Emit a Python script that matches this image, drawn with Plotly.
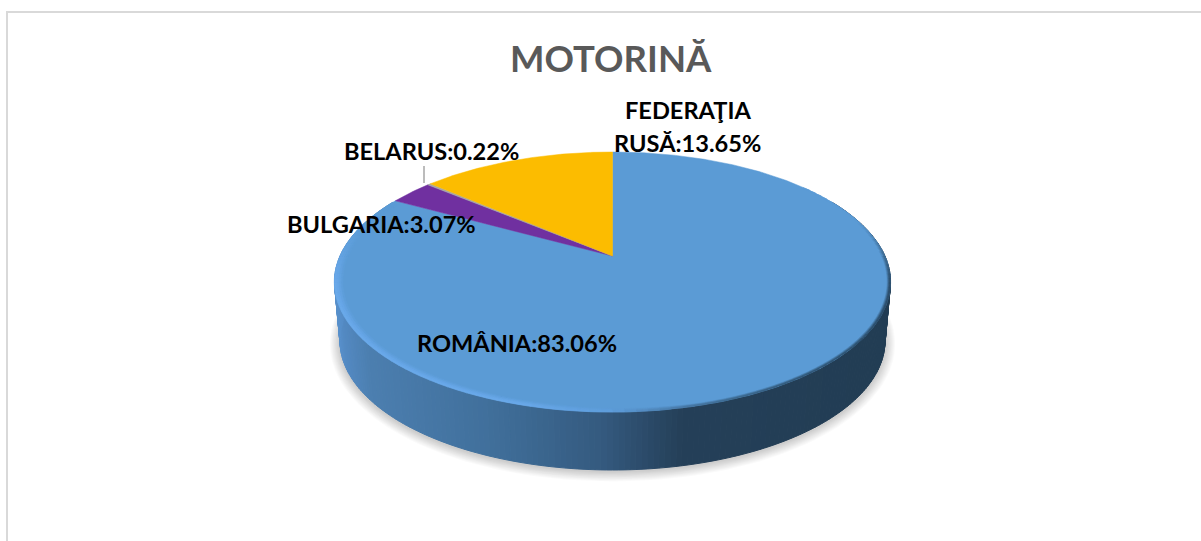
import numpy as np
import plotly.graph_objects as go

# ---- data ----
TITLE = "MOTORINĂ"
CATEGORIES = ["ROMÂNIA", "BULGARIA", "BELARUS", "FEDERAŢIA RUSĂ"]
VALUES = [83.06, 3.07, 0.22, 13.65]
SLICE_COLORS = ["#5B9BD5", "#7030A0", "#A5A5A5", "#FCBC00"]

# ---- pie geometry (pixel space of the hidden axes) ----
W, H = 1201, 541
CX, APEX_Y = 612.5, 256.0
A_TOP, B_TOP, PERSP = 272.4, 124.8, 0.2
A_BOT, B_BOT, BOT_Y = 267.0, 124.0, 315.0
FONT = "Lato"


def top_xy(theta, s=1.0):
    w = 1 + PERSP * np.cos(theta)
    return CX + s * A_TOP * np.sin(theta) / w, APEX_Y - s * B_TOP * np.cos(theta) / w


def bot_xy(theta, s=1.0):
    w = 1 + PERSP * np.cos(theta)
    return CX + s * A_BOT * np.sin(theta) / w, BOT_Y - s * B_BOT * np.cos(theta) / w


def hex_rgb(c):
    return np.array([int(c[i:i + 2], 16) for i in (1, 3, 5)], float)


def ramp_rgb(x, xs, cs):
    return np.array([np.interp(x, xs, [hex_rgb(c)[i] for c in cs]) for i in range(3)])


def css(rgb):
    return "rgb(%d,%d,%d)" % tuple(rgb)


SIDE_X = [334, 345, 370, 487, 600, 680, 890]
SIDE_C = ["#5B94D0", "#5389C2", "#4C7FB0", "#41709C", "#355B80", "#254059", "#223D54"]
RIM_X = [334, 520, 610, 690, 800, 890]
RIM_C = ["#6AA9EB", "#6AA9EA", "#5F9EDC", "#44739E", "#2F5472", "#2B4C68"]

fig = go.Figure()


def poly(x, y, color, lw=1.0):
    fig.add_trace(go.Scatter(x=x, y=y, mode="lines", fill="toself", fillcolor=color,
                             line=dict(color=color, width=lw), hoverinfo="skip", showlegend=False))


# soft shadow below the disc
t_all = np.radians(np.linspace(0, 360, 181))
for grow in np.arange(10, 0, -1.0):
    x, y = bot_xy(t_all)
    x = CX + (x - CX) * (1 + grow / 267.0)
    y = BOT_Y + (y - BOT_Y) * (1 + grow / 155.0) + 1.5
    fig.add_trace(go.Scatter(x=x, y=y, mode="lines", fill="toself", fillcolor="rgba(0,0,0,0.018)",
                             line=dict(width=0), hoverinfo="skip", showlegend=False))

# side wall
edges = np.radians(np.linspace(62, 298, 237))
for t0, t1 in zip(edges[:-1], edges[1:]):
    xa, ya = top_xy(np.array([t0, t1]))
    xb, yb = bot_xy(np.array([t1, t0]))
    col = css(ramp_rgb((xa.mean() + xb.mean()) / 2, SIDE_X, SIDE_C))
    poly(list(xa) + list(xb) + [xa[0]], list(ya) + list(yb) + [ya[0]], col)

# top face slices, computed from the values (clockwise from 12 o'clock)
fracs = np.cumsum([0] + VALUES) / sum(VALUES) * 2 * np.pi
for a0, a1, col in zip(fracs[:-1], fracs[1:], SLICE_COLORS):
    th = np.linspace(a0, a1, max(3, int(np.degrees(a1 - a0) * 2)))
    x, y = top_xy(th)
    poly([CX] + list(x) + [CX], [APEX_Y] + list(y) + [APEX_Y], col, lw=0.5)

# bevel along the front edge: wide and light on the left, thin and dark on the right
surf = hex_rgb(SLICE_COLORS[0])
bands = [(4, 3, 0.25), (3, 2, 0.55), (2, 1, 0.85), (1, -0.1, 1.0)]
edges = np.radians(np.linspace(52, 298, 124))
for d0, d1, mix in bands:
    for t0, t1 in zip(edges[:-1], edges[1:]):
        tm = (t0 + t1) / 2
        xm = top_xy(tm)[0]
        unit = np.interp(xm, [334, 560, 700, 890], [0.0075, 0.0075, 0.0035, 0.0030])
        xa, ya = top_xy(np.array([t0, t1]), 1 - d0 * unit)
        xb, yb = top_xy(np.array([t1, t0]), 1 - d1 * unit)
        fade = np.clip((0.30 - np.cos(tm)) / 0.5, 0, 1)
        rgb = ramp_rgb(xm, RIM_X, RIM_C)
        m = mix * fade
        poly(list(xa) + list(xb) + [xa[0]], list(ya) + list(yb) + [ya[0]],
             css(surf * (1 - m) + rgb * m), lw=0.6)

# Belarus leader line
fig.add_shape(type="line", x0=424, x1=424, y0=166, y1=183, line=dict(color="#A6A6A6", width=1.5))

# chart frame
fig.add_shape(type="line", x0=7, x1=7, y0=12, y1=H, line=dict(color="#D9D9D9", width=2))
fig.add_shape(type="line", x0=6, x1=W, y0=12, y1=12, line=dict(color="#D9D9D9", width=2))


def label(text, x, y, size=23.6, color="#000000"):
    fig.add_annotation(x=x, y=y, text=text, showarrow=False, xanchor="center", yanchor="middle",
                       font=dict(family=FONT, size=size, color=color, weight="bold"))


label(TITLE, 611, 58, size=36.5, color="#595959")
pct = ["%s:%.2f%%" % (c, v) for c, v in zip(CATEGORIES, VALUES)]
label(pct[0], 516.5, 343)
label(pct[1], 381.5, 224)
label(pct[2], 431.5, 151)
first, rest = pct[3].split(" ", 1)
label(first, 687.5, 110)
label(rest, 687.5, 143)

fig.update_layout(
    width=W, height=H, margin=dict(l=0, r=0, t=0, b=0), autosize=False,
    paper_bgcolor="#FFFFFF", plot_bgcolor="#FFFFFF", showlegend=False,
    xaxis=dict(range=[0, W], visible=False, fixedrange=True),
    yaxis=dict(range=[H, 0], visible=False, fixedrange=True),
)
fig.write_html("out.html", config={"displayModeBar": False},
               post_script="document.body.style.margin='0';document.body.style.overflow='hidden';")
